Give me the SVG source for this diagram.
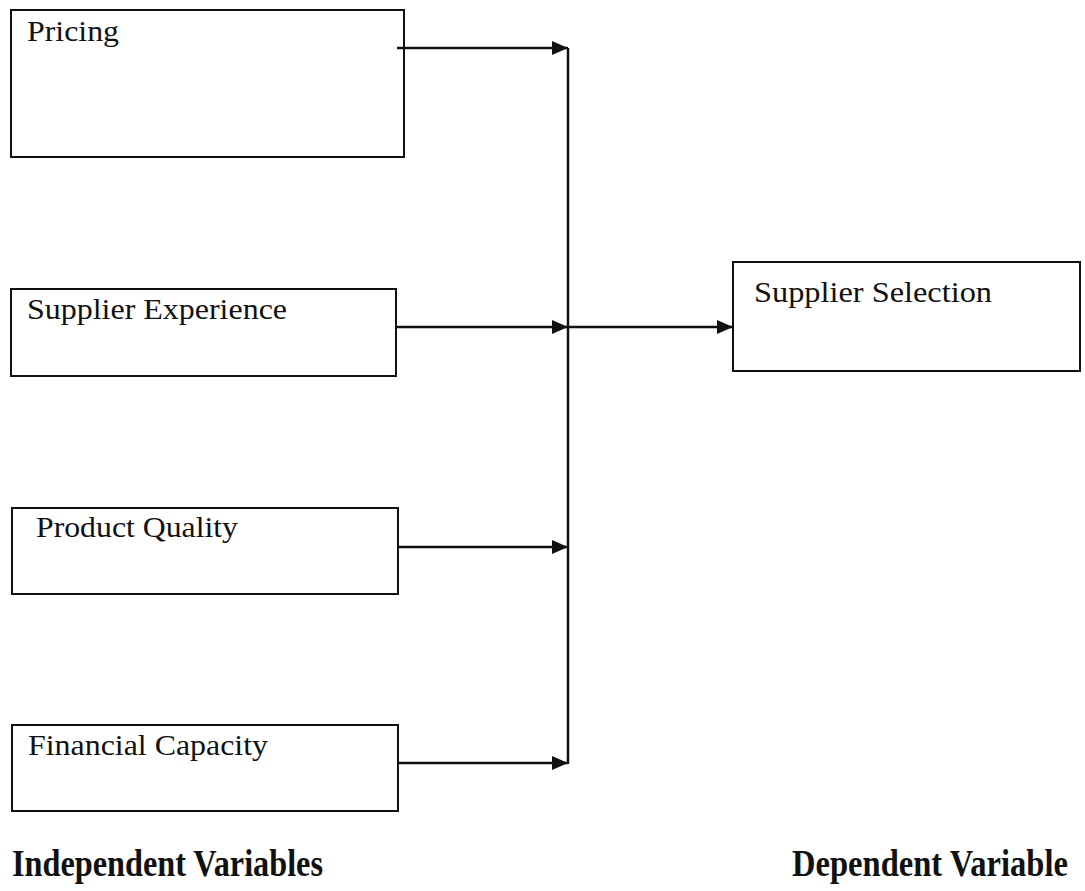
<svg xmlns="http://www.w3.org/2000/svg" width="1085" height="891" viewBox="0 0 1085 891">
<defs>
<style>
.box{fill:#fff;stroke:#111;stroke-width:2}
.lbl{font-family:"Liberation Serif","Times New Roman",serif;font-size:30px;fill:#111}
.foot{font-family:"Liberation Serif","Times New Roman",serif;font-size:37px;font-weight:bold;fill:#111}
.con{stroke:#111;stroke-width:2.5;fill:none}
</style>
<marker id="ah" markerWidth="16" markerHeight="14" refX="16" refY="7" orient="auto" markerUnits="userSpaceOnUse">
<path d="M0,0 L16,7 L0,14 Z" fill="#111"/>
</marker>
</defs>
<rect width="1085" height="891" fill="#fff"/>
<g id="pricing"><rect class="box" x="11" y="10" width="393" height="147"/><text class="lbl" x="27" y="41" textLength="92" lengthAdjust="spacingAndGlyphs">Pricing</text></g>
<g id="experience"><rect class="box" x="11" y="289" width="385" height="87"/><text class="lbl" x="27" y="319" textLength="260" lengthAdjust="spacingAndGlyphs">Supplier Experience</text></g>
<g id="quality"><rect class="box" x="12" y="508" width="386" height="86"/><text class="lbl" x="36" y="537" textLength="202" lengthAdjust="spacingAndGlyphs">Product Quality</text></g>
<g id="financial"><rect class="box" x="12" y="725" width="386" height="86"/><text class="lbl" x="28" y="755" textLength="240" lengthAdjust="spacingAndGlyphs">Financial Capacity</text></g>
<g id="selection"><rect class="box" x="733" y="262" width="347" height="109"/><text class="lbl" x="754" y="302" textLength="238" lengthAdjust="spacingAndGlyphs">Supplier Selection</text></g>
<g id="connectors">
<line class="con" x1="568" y1="48" x2="568" y2="764"/>
<line class="con" x1="397" y1="48" x2="568" y2="48" marker-end="url(#ah)"/>
<line class="con" x1="396" y1="327" x2="568" y2="327" marker-end="url(#ah)"/>
<line class="con" x1="398" y1="547" x2="568" y2="547" marker-end="url(#ah)"/>
<line class="con" x1="398" y1="763" x2="568" y2="763" marker-end="url(#ah)"/>
<line class="con" x1="568" y1="327" x2="733" y2="327" marker-end="url(#ah)"/>
</g>
<g id="footer">
<text class="foot" x="12" y="876" textLength="311" lengthAdjust="spacingAndGlyphs">Independent Variables</text>
<text class="foot" x="792" y="876" textLength="276" lengthAdjust="spacingAndGlyphs">Dependent Variable</text>
</g>
</svg>
